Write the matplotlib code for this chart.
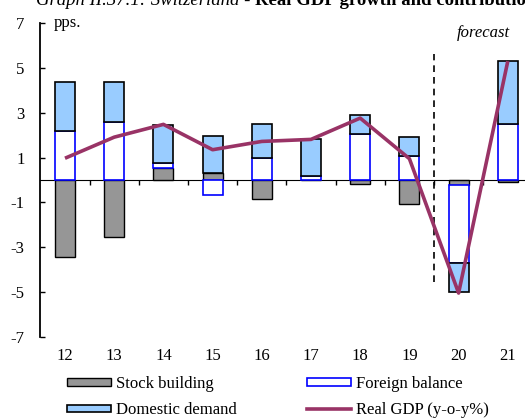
import numpy as np
import matplotlib
matplotlib.use("Agg")
import matplotlib.pyplot as plt
from matplotlib.patches import Patch
from matplotlib.lines import Line2D

plt.rcParams["font.family"] = ["Liberation Serif", "DejaVu Serif"]
plt.rcParams["font.size"] = 12

# Contributions to real GDP growth (pps.) and real GDP growth (y-o-y %)
years = ["12", "13", "14", "15", "16", "17", "18", "19", "20", "21"]
stock_building = [-3.45, -2.55, 0.54, 0.32, -0.84, 0.0, -0.17, -1.06, -0.21, -0.07]
foreign_balance = [2.20, 2.58, 0.24, -0.69, 1.00, 0.19, 2.03, 1.08, -3.50, 2.48]
domestic_demand = [2.15, 1.77, 1.67, 1.64, 1.51, 1.65, 0.85, 0.82, -1.28, 2.82]
real_gdp = [0.97, 1.91, 2.48, 1.35, 1.72, 1.81, 2.76, 0.95, -5.04, 5.30]
y_ticks = [-7, -5, -3, -1, 1, 3, 5, 7]
first_forecast_year = "20"

W, H, DPI = 525, 419, 100
fig = plt.figure(figsize=(W / DPI, H / DPI), dpi=DPI)
ax = fig.add_axes([40.4 / W, 1 - 337 / H, 492 / W, 314 / H])

x = np.arange(len(years))
bar_w = 0.41

series = [
    (np.array(stock_building), dict(facecolor="#969696", edgecolor="black", linewidth=1.0)),
    (np.array(foreign_balance), dict(facecolor="white", edgecolor="#0000FF", linewidth=1.2)),
    (np.array(domestic_demand), dict(facecolor="#99CCFF", edgecolor="black", linewidth=1.2)),
]
pos_base = np.zeros(len(years))
neg_base = np.zeros(len(years))
for vals, style in series:
    bottom = np.where(vals >= 0, pos_base, neg_base)
    ax.bar(x, vals, bottom=bottom, width=bar_w, zorder=2, **style)
    pos_base = pos_base + np.clip(vals, 0, None)
    neg_base = neg_base + np.clip(vals, None, 0)

ax.plot(x, real_gdp, color="#993366", linewidth=2.6, zorder=4, solid_capstyle="butt")

# forecast boundary
fx = years.index(first_forecast_year) - 0.5
ax.vlines(fx, -4.55, 5.6, colors="black", linestyles=(0, (4, 3)), linewidth=1.2, zorder=3)
ax.text(fx + 1.0, 6.55, "forecast", style="italic", ha="center", va="center", fontsize=12)
ax.text(-0.22, 7.0, "pps.", ha="left", va="center", fontsize=12)

ax.set_xlim(-0.5, len(years) - 0.5)
ax.set_ylim(-7, 7)
ax.set_yticks(y_ticks)
ax.set_yticklabels([str(v) for v in y_ticks])
ax.tick_params(axis="y", direction="in", length=3.5, width=1.0, pad=11.5)
ax.set_xticks(x)
ax.set_xticklabels(years)
ax.tick_params(axis="x", length=0, pad=8)

for side in ("top", "right", "bottom"):
    ax.spines[side].set_visible(False)
ax.spines["left"].set_linewidth(1.3)

# zero line carrying the category separators
zero_axis = ax.secondary_xaxis(0.5)
zero_axis.set_xticks(np.arange(len(years)) + 0.5)
zero_axis.tick_params(direction="in", length=3.8, width=1.0, labelbottom=False)
zero_axis.set_xticklabels([])
zero_axis.spines["bottom"].set_linewidth(1.3)

handles = [
    Patch(facecolor="#969696", edgecolor="black", linewidth=1.0),
    Patch(facecolor="#99CCFF", edgecolor="black", linewidth=1.2),
    Patch(facecolor="white", edgecolor="#0000FF", linewidth=1.2),
    Line2D([], [], color="#993366", linewidth=2.6),
]
labels = ["Stock building", "Domestic demand", "Foreign balance", "Real GDP (y-o-y%)"]
fig.legend(handles, labels, ncol=2, loc="upper left",
           bbox_to_anchor=(67 / W, 1 - 376 / H), frameon=False, borderpad=0,
           borderaxespad=0, handlelength=2.63, handleheight=0.32,
           handletextpad=0.3, columnspacing=4.22, labelspacing=0.62, fontsize=12)

# title: italic lead followed by bold subject
title_lead = fig.text(36 / W, 1 - 5 / H, "Graph II.37.1: Switzerland - ", style="italic",
                      ha="left", va="baseline", fontsize=13.5)
ax.annotate("Real GDP growth and contributions", xy=(1, 0), xycoords=title_lead,
            ha="left", va="bottom", weight="bold", fontsize=13.5, annotation_clip=False)

fig.savefig("out.png", dpi=DPI)
